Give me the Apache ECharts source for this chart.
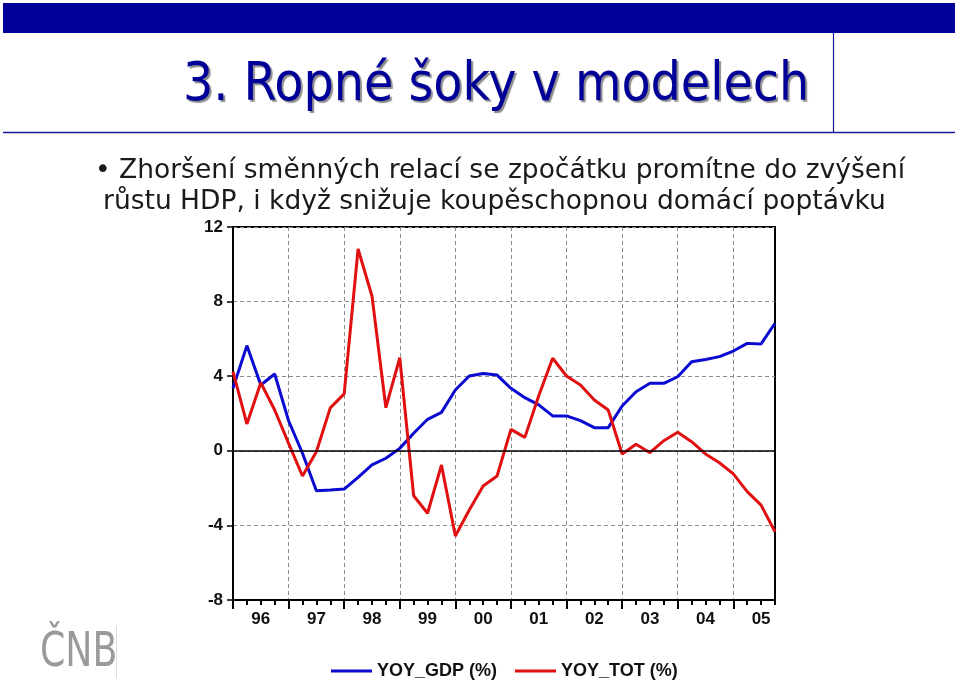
<!DOCTYPE html>
<html>
<head>
<meta charset="utf-8">
<script src="https://cdn.jsdelivr.net/npm/echarts@6/dist/echarts.min.js"></script>
<style>
html,body{margin:0;padding:0;background:#fff;}
#chart{width:960px;height:681px;}
</style>
</head>
<body>
<div id="chart"></div>
<script>
var quarters = ['1996Q1','1996Q2','1996Q3','1996Q4','1997Q1','1997Q2','1997Q3','1997Q4',
  '1998Q1','1998Q2','1998Q3','1998Q4','1999Q1','1999Q2','1999Q3','1999Q4',
  '2000Q1','2000Q2','2000Q3','2000Q4','2001Q1','2001Q2','2001Q3','2001Q4',
  '2002Q1','2002Q2','2002Q3','2002Q4','2003Q1','2003Q2','2003Q3','2003Q4',
  '2004Q1','2004Q2','2004Q3','2004Q4','2005Q1','2005Q2','2005Q3','2005Q4'];
var yearLabels = ['96','97','98','99','00','01','02','03','04','05'];
var yoyGdp = [3.35,5.64,3.53,4.12,1.61,-0.13,-2.14,-2.10,-2.05,-1.42,
  -0.76,-0.40,0.13,0.94,1.69,2.06,3.26,4.01,4.15,4.06,
  3.35,2.85,2.46,1.87,1.87,1.62,1.24,1.24,2.40,3.17,
  3.62,3.62,3.97,4.78,4.90,5.05,5.35,5.76,5.73,6.84];
var yoyTot = [4.24,1.44,3.65,2.19,0.40,-1.35,-0.05,2.30,3.05,10.82,
  8.30,2.31,4.99,-2.41,-3.35,-0.76,-4.57,-3.17,-1.89,-1.35,
  1.15,0.72,2.95,4.96,4.01,3.53,2.72,2.19,-0.17,0.35,
  -0.10,0.54,0.99,0.49,-0.17,-0.64,-1.24,-2.19,-2.91,-4.34];
var yTicks = {min:-8, max:12, step:4};

var chart = echarts.init(document.getElementById('chart'), null, {renderer:'canvas'});
var dash = {color:'#8c8c8c', type:[4,3], width:1};
var axisFont = {fontFamily:'Liberation Sans, Arial, sans-serif', fontWeight:'bold', fontSize:17, color:'#111'};

var option = {
  backgroundColor:'#fff',
  animation:false,
  grid:{left:233, right:185, top:227, bottom:81, show:true, borderColor:'#000', borderWidth:2, backgroundColor:'transparent'},
  xAxis:[{
    type:'category', data:quarters, boundaryGap:false, position:'bottom',
    axisLine:{show:true, onZero:false, lineStyle:{color:'#000', width:2}},
    axisTick:{show:true, interval:0, length:5, lineStyle:{color:'#000', width:2}},
    axisLabel:Object.assign({interval:function(i){return i%4===2;}, margin:11,
      formatter:function(v,i){return yearLabels[Math.floor(i/4)];}}, axisFont),
    splitLine:{show:false}
  },{
    type:'category', data:quarters, boundaryGap:false, position:'bottom',
    axisLine:{show:false, onZero:false},
    axisTick:{show:true, interval:function(i){return i%4===0;}, length:9, lineStyle:{color:'#000', width:2}},
    axisLabel:{show:false},
    splitLine:{show:true, interval:function(i){return i%4===0 && i>0;}, lineStyle:dash}
  }],
  yAxis:{
    type:'value', min:yTicks.min, max:yTicks.max, interval:yTicks.step,
    axisLine:{show:true, lineStyle:{color:'#000', width:2}},
    axisTick:{show:true, length:6, lineStyle:{color:'#000', width:1.5}},
    axisLabel:Object.assign({margin:10}, axisFont),
    splitLine:{show:true, lineStyle:dash}
  },
  legend:{
    left:326, top:657, itemGap:18, itemWidth:41, itemHeight:3, icon:'rect',
    textStyle:{fontFamily:'Liberation Sans, Arial, sans-serif', fontWeight:'bold', fontSize:18, color:'#111', padding:[0,0,0,0]},
    data:['YOY_GDP (%)','YOY_TOT (%)']
  },
  series:[{
    name:'YOY_GDP (%)', type:'line', data:yoyGdp, symbol:'none', xAxisIndex:0,
    lineStyle:{color:'#0a0ad0', width:3}, itemStyle:{color:'#0a0ad0'},
    markLine:{silent:true, symbol:'none', label:{show:false},
      lineStyle:{color:'#000', type:'solid', width:1.5}, data:[{yAxis:0}]},
    z:3
  },{
    name:'YOY_TOT (%)', type:'line', data:yoyTot, symbol:'none', xAxisIndex:0,
    lineStyle:{color:'#e01010', width:3}, itemStyle:{color:'#e01010'}, z:4
  }],
  graphic:[
    {type:'rect', shape:{x:3, y:3, width:952, height:30}, style:{fill:'#000099'}, silent:true},
    {type:'line', shape:{x1:3, y1:132.5, x2:955, y2:132.5}, style:{stroke:'#1a1a9a', lineWidth:1.5}},
    {type:'line', shape:{x1:833.5, y1:33, x2:833.5, y2:132}, style:{stroke:'#1a1a9a', lineWidth:1.2}},
    {type:'text', x:183, y:86, style:{text:'3. Ropné šoky v modelech', fill:'#000099',
      font:'53px "DejaVu Sans Condensed", "DejaVu Sans", sans-serif', textVerticalAlign:'middle',
      textShadowColor:'rgba(0,0,0,0.45)', textShadowOffsetX:2, textShadowOffsetY:2, textShadowBlur:1}},
    {type:'text', x:95, y:171, style:{text:'• Zhoršení směnných relací se zpočátku promítne do zvýšení', fill:'#1a1a1a',
      font:'26.5px "DejaVu Sans", sans-serif', textVerticalAlign:'middle'}},
    {type:'text', x:103, y:202, style:{text:'růstu HDP, i když snižuje koupěschopnou domácí poptávku', fill:'#1a1a1a',
      font:'26.5px "DejaVu Sans", sans-serif', textVerticalAlign:'middle'}},
    {type:'text', x:40, y:654, scaleX:0.84, style:{text:'ČNB', fill:'#9a9a9a',
      font:'48px "DejaVu Sans Condensed", "DejaVu Sans", sans-serif', textVerticalAlign:'middle'}},
    {type:'line', shape:{x1:116.5, y1:626, x2:116.5, y2:678}, style:{stroke:'#dddddd', lineWidth:1}}
  ]
};
chart.setOption(option);
</script>
</body>
</html>
